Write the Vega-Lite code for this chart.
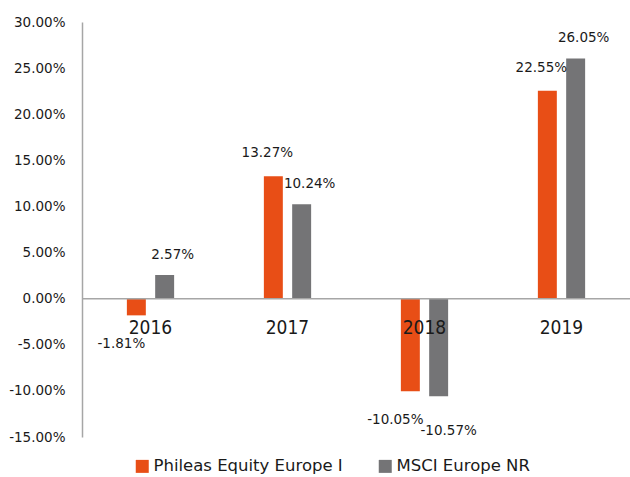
{
  "$schema": "https://vega.github.io/schema/vega-lite/v6.json",
  "width": 548,
  "height": 415,
  "autosize": "none",
  "padding": {"left": 82, "top": 22, "right": 0, "bottom": 40},
  "background": "white",
  "config": {
    "view": {"stroke": null},
    "font": "DejaVu Sans",
    "locale": {"number": {"decimal": ".", "thousands": ",", "grouping": [3], "currency": ["$", ""], "minus": "-", "percent": "%"}}
  },
  "data": {"values": [
    {"year": "2016", "series": "Phileas Equity Europe I", "value": -0.0181},
    {"year": "2016", "series": "MSCI Europe NR", "value": 0.0257},
    {"year": "2017", "series": "Phileas Equity Europe I", "value": 0.1327},
    {"year": "2017", "series": "MSCI Europe NR", "value": 0.1024},
    {"year": "2018", "series": "Phileas Equity Europe I", "value": -0.1005},
    {"year": "2018", "series": "MSCI Europe NR", "value": -0.1057},
    {"year": "2019", "series": "Phileas Equity Europe I", "value": 0.2255},
    {"year": "2019", "series": "MSCI Europe NR", "value": 0.2605}
  ]},
  "layer": [
    {
      "mark": {"type": "bar"},
      "encoding": {
        "x": {"field": "year", "type": "nominal", "scale": {"paddingInner": 0.655, "paddingOuter": 0.3275}, "axis": null},
        "xOffset": {"field": "series", "type": "nominal", "scale": {"domain": ["Phileas Equity Europe I", "MSCI Europe NR"], "paddingInner": 0.33, "paddingOuter": 0}},
        "y": {"field": "value", "type": "quantitative", "scale": {"domain": [-0.15, 0.30], "nice": false},
          "axis": {"values": [-0.15, -0.10, -0.05, 0, 0.05, 0.10, 0.15, 0.20, 0.25, 0.30], "format": ".2%", "grid": false, "ticks": false, "domainColor": "#A6A6A6", "domainWidth": 1.5, "labelFont": "DejaVu Sans", "labelFontSize": 13.5, "labelColor": "#1a1a1a", "labelPadding": 17, "title": null}},
        "color": {"field": "series", "type": "nominal",
          "scale": {"domain": ["Phileas Equity Europe I", "MSCI Europe NR"], "range": ["#E84E16", "#747476"]},
          "legend": {"orient": "none", "legendX": 52, "legendY": 436, "direction": "horizontal", "title": null, "symbolType": "square", "symbolSize": 169, "symbolStrokeWidth": 0, "labelFont": "DejaVu Sans", "labelFontSize": 16.5, "labelColor": "#1a1a1a", "labelOffset": 3, "labelLimit": 400, "columnPadding": 34, "padding": 0}}
      }
    },
    {
      "data": {"values": [{"v": 0}]},
      "mark": {"type": "rule", "color": "#A6A6A6", "strokeWidth": 1.5},
      "encoding": {"y": {"field": "v", "type": "quantitative"}}
    },
    {
      "transform": [{"filter": "datum.series == 'Phileas Equity Europe I'"}],
      "mark": {"type": "text", "font": "DejaVu Sans Condensed, DejaVu Sans", "fontSize": 19, "baseline": "middle", "dy": 29, "color": "#1a1a1a"},
      "encoding": {
        "x": {"field": "year", "type": "nominal"},
        "y": {"datum": 0},
        "text": {"field": "year"}
      }
    },
    {
      "transform": [{"filter": "datum.series == 'Phileas Equity Europe I' && datum.value >= 0"}],
      "mark": {"type": "text", "fontSize": 13.5, "baseline": "middle", "dx": -6, "dy": -23, "color": "#1a1a1a"},
      "encoding": {
        "x": {"field": "year", "type": "nominal"},
        "xOffset": {"field": "series", "type": "nominal"},
        "y": {"field": "value", "type": "quantitative"},
        "text": {"field": "value", "format": ".2%"}
      }
    },
    {
      "transform": [{"filter": "datum.series == 'MSCI Europe NR' && datum.value >= 0"}],
      "mark": {"type": "text", "fontSize": 13.5, "baseline": "middle", "dx": 8, "dy": -20, "color": "#1a1a1a"},
      "encoding": {
        "x": {"field": "year", "type": "nominal"},
        "xOffset": {"field": "series", "type": "nominal"},
        "y": {"field": "value", "type": "quantitative"},
        "text": {"field": "value", "format": ".2%"}
      }
    },
    {
      "transform": [{"filter": "datum.series == 'Phileas Equity Europe I' && datum.value < 0"}],
      "mark": {"type": "text", "fontSize": 13.5, "baseline": "middle", "dx": -15, "dy": 29, "color": "#1a1a1a"},
      "encoding": {
        "x": {"field": "year", "type": "nominal"},
        "xOffset": {"field": "series", "type": "nominal"},
        "y": {"field": "value", "type": "quantitative"},
        "text": {"field": "value", "format": ".2%"}
      }
    },
    {
      "transform": [{"filter": "datum.series == 'MSCI Europe NR' && datum.value < 0"}],
      "mark": {"type": "text", "fontSize": 13.5, "baseline": "middle", "dx": 10, "dy": 35, "color": "#1a1a1a"},
      "encoding": {
        "x": {"field": "year", "type": "nominal"},
        "xOffset": {"field": "series", "type": "nominal"},
        "y": {"field": "value", "type": "quantitative"},
        "text": {"field": "value", "format": ".2%"}
      }
    }
  ]
}
